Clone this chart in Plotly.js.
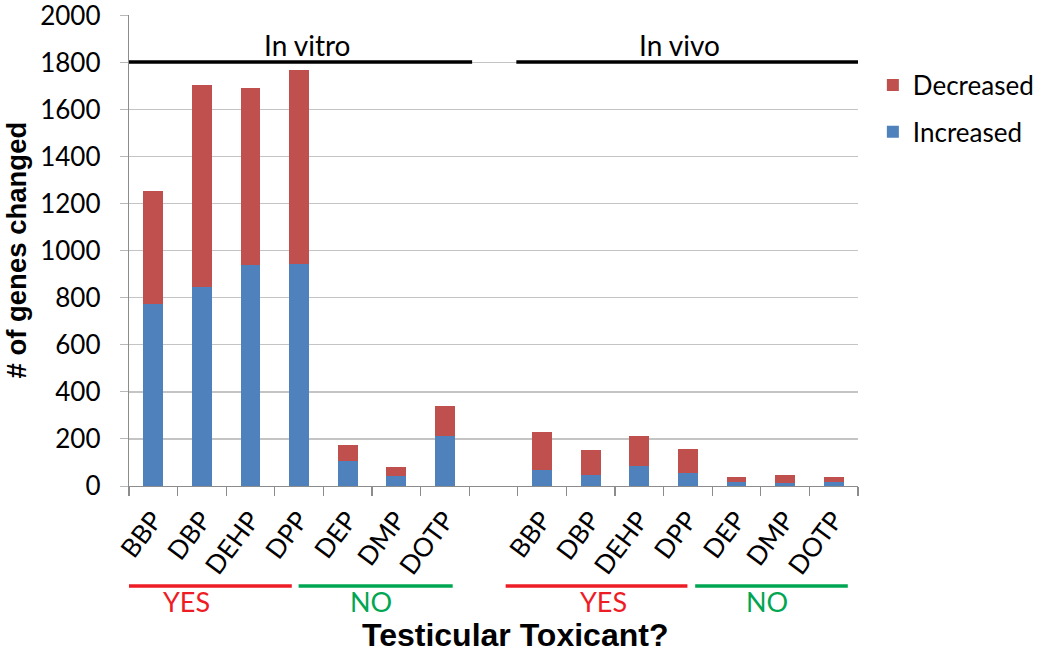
<!DOCTYPE html>
<html>
<head>
<meta charset="utf-8">
<script src="https://cdn.plot.ly/plotly-3.0.1.min.js"></script>
<style>html,body{margin:0;padding:0;background:#fff;}#chart{width:1050px;height:654px;}</style>
</head>
<body>
<div id="chart"></div>
<script>
// ---- data ----
const compounds = ['BBP', 'DBP', 'DEHP', 'DPP', 'DEP', 'DMP', 'DOTP'];
const settings = ['In vitro', 'In vivo'];
const toxicantGroups = ['YES', 'NO'];
const toxicantCounts = [4, 3];
const inVitroIncreased = [775, 848, 940, 944, 106, 44, 211];
const inVitroDecreased = [480, 858, 752, 826, 70, 37, 127];
const inVivoIncreased = [70, 46, 87, 56, 18, 14, 17];
const inVivoDecreased = [158, 105, 124, 103, 21, 32, 22];
const yTicks = [0, 200, 400, 600, 800, 1000, 1200, 1400, 1600, 1800, 2000];

// ---- positions built from data ----
const n = compounds.length;
const gap = 1;
const xVitro = compounds.map((c, i) => i);
const xVivo = compounds.map((c, i) => i + n + gap);
const xAll = xVitro.concat(xVivo);
const labels = compounds.concat(compounds);
const boundaries = [];
for (let b = -0.5; b <= 2 * n + gap - 0.5 + 1e-9; b += 1) boundaries.push(b);

const blue = '#4F81BD', red = '#C0504D';
const font = 'Lato, "Open Sans", sans-serif';
const boldFont = '"Liberation Sans", Arial, sans-serif';

const traces = [
  {type: 'bar', name: 'Increased', legendgroup: 'inc', legendrank: 2, x: xAll,
   y: inVitroIncreased.concat(inVivoIncreased), marker: {color: blue}, xaxis: 'x', yaxis: 'y'},
  {type: 'bar', name: 'Decreased', legendgroup: 'dec', legendrank: 1, x: xAll,
   y: inVitroDecreased.concat(inVivoDecreased), marker: {color: red}, xaxis: 'x', yaxis: 'y'}
];

const xr = [-0.5, 2 * n + gap - 0.5];

// header lines & labels
const headerSpans = [[-0.5, n - 0.44], [n + gap - 0.53, 2 * n + gap - 0.45]];
const headerTextX = [3.16, 10.82];
const shapes = [];
const annotations = [];
settings.forEach((s, k) => {
  shapes.push({type: 'line', xref: 'x', yref: 'paper', x0: headerSpans[k][0], x1: headerSpans[k][1],
    y0: 0.9, y1: 0.9, line: {color: '#000', width: 3.5}});
  annotations.push({text: s, xref: 'x', yref: 'paper', x: headerTextX[k], y: 0.936,
    showarrow: false, xanchor: 'center', yanchor: 'middle', font: {family: font, size: 28, color: '#000'}});
});

// toxicant group lines & labels (positions per block, in x data units)
const groupLines = [[-0.93, 2.85], [2.99, 6.16], [7.25, 10.99], [11.15, 14.29]];
const groupText = [0.69, 4.47, 9.26, 12.63];
const groupColors = {YES: '#EE1C25', NO: '#00A651'};
let g = 0;
settings.forEach(() => {
  toxicantGroups.forEach((t) => {
    shapes.push({type: 'line', xref: 'x', yref: 'paper', x0: groupLines[g][0], x1: groupLines[g][1],
      y0: -0.2123, y1: -0.2123, line: {color: groupColors[t], width: 3.5}});
    annotations.push({text: t, xref: 'x', yref: 'paper', x: groupText[g], y: -0.246,
      showarrow: false, xanchor: 'center', yanchor: 'middle', font: {family: font, size: 27, color: groupColors[t]}});
    g++;
  });
});

annotations.push({text: '<b>Testicular Toxicant?</b>', xref: 'paper', yref: 'paper', x: 0.53, y: -0.316,
  showarrow: false, xanchor: 'center', yanchor: 'middle', font: {family: boldFont, size: 32, color: '#000'}});
annotations.push({text: '<b># of genes changed</b>', xref: 'paper', yref: 'paper', x: -0.155, y: 0.5,
  textangle: -90, showarrow: false, xanchor: 'center', yanchor: 'middle', font: {family: boldFont, size: 27.5, color: '#000'}});

const layout = {
  width: 1050, height: 654, autosize: false,
  margin: {l: 129, r: 191, t: 15, b: 168, pad: 0},
  paper_bgcolor: '#fff', plot_bgcolor: '#fff',
  barmode: 'stack', bargap: 0.59,
  showlegend: true,
  legend: {x: 1.019, y: 0.901, xanchor: 'left', yanchor: 'top', traceorder: 'grouped',
    tracegroupgap: 10, font: {family: font, size: 26, color: '#000'}, bgcolor: 'rgba(0,0,0,0)'},
  xaxis: {range: xr, tickmode: 'array', tickvals: xAll, ticktext: labels, tickangle: -53,
    ticks: '', showgrid: false, zeroline: false, showline: true, linecolor: '#8C8C8C', linewidth: 1.3,
    ticklabelstandoff: 7, tickfont: {family: font, size: 26, color: '#000'}, fixedrange: true},
  xaxis2: {range: xr, overlaying: 'x', anchor: 'y', side: 'bottom', tickmode: 'array', tickvals: boundaries,
    showticklabels: false, ticks: 'outside', ticklen: 9, tickcolor: '#8C8C8C', tickwidth: 1.3,
    showgrid: false, zeroline: false, showline: false},
  yaxis: {range: [0, 2002], tickmode: 'array', tickvals: yTicks, ticks: 'outside', ticklen: 8, tickcolor: '#B8B8B8',
    gridcolor: '#C4C4C4', gridwidth: 1.3, showline: true, linecolor: '#8C8C8C', linewidth: 1.3, zeroline: false,
    ticklabeloverflow: 'allow', ticklabelstandoff: 14, tickfont: {family: font, size: 26, color: '#000'}},
  shapes: shapes,
  annotations: annotations
};

// invisible helper trace so the boundary-tick axis is drawn
traces.push({type: 'scatter', x: [xr[0]], y: [0], xaxis: 'x2', yaxis: 'y', mode: 'markers',
  marker: {opacity: 0}, showlegend: false, hoverinfo: 'skip'});

Plotly.newPlot('chart', traces, layout, {displayModeBar: false, staticPlot: true});
</script>
</body>
</html>
